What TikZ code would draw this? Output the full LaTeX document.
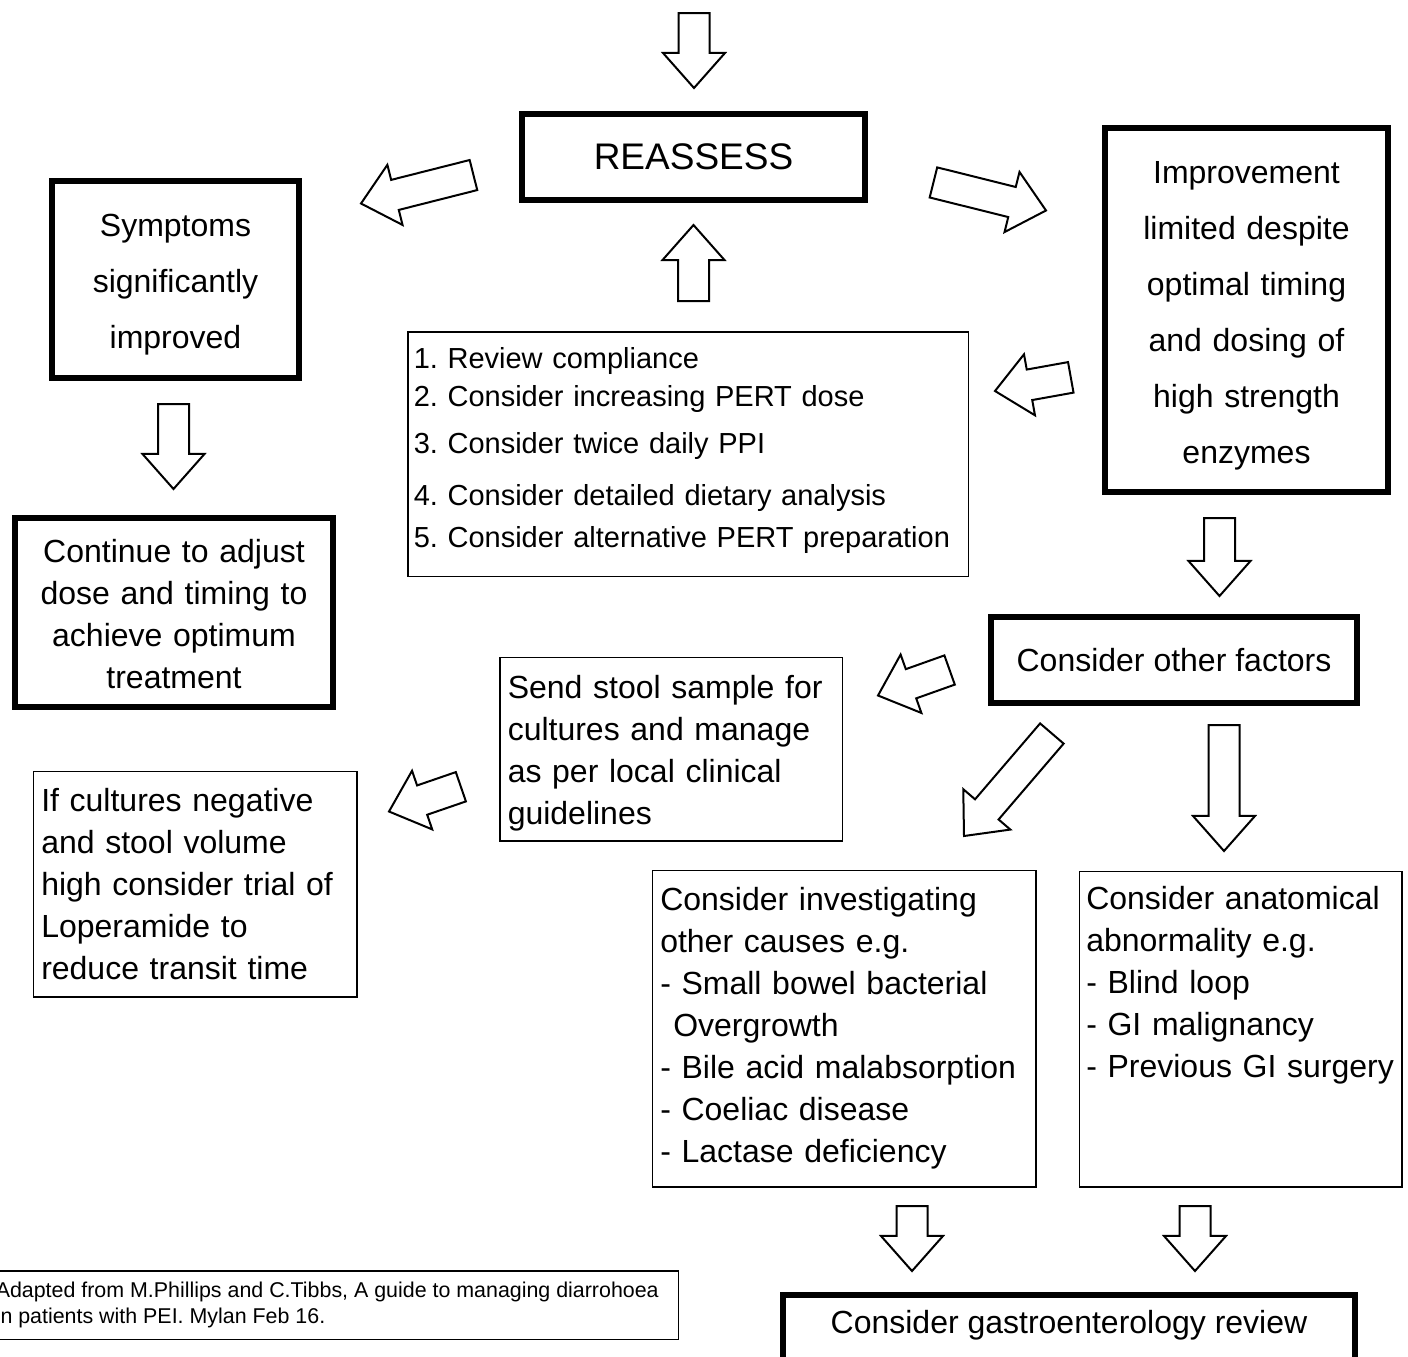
\documentclass[tikz,border=0pt]{standalone}
\usepackage{fontspec}
\setmainfont{Liberation Sans}
\usepackage{tikz}
\usetikzlibrary{
  positioning,
  shapes.arrows
}
\frenchspacing

\begin{document}
\begin{tikzpicture}[
  x=1pt, y=-1pt,
  thickbox/.style={draw, line width=6pt, align=center, inner sep=0pt, font=\fontsize{32}{42}\selectfont},
  thinbox/.style={draw, line width=1.5pt, align=left, inner xsep=8pt, inner ysep=0pt, font=\fontsize{32}{42}\selectfont},
  blk/.style={single arrow, draw, fill=white, line width=2pt, inner xsep=0pt, inner ysep=14.5pt, outer sep=0pt,
    single arrow head extend=15.5pt, single arrow tip angle=83, anchor=tip, minimum height=#1}
]
  \useasboundingbox (0,0) rectangle (1408,1357);

  % Centre
  \node[thickbox, minimum width=343pt, minimum height=86pt, font=\fontsize{37}{44}\selectfont] (reassess) at (693.5,157) {REASSESS};
  \node[thinbox, inner xsep=6pt, text width=548.5pt, minimum height=244.5pt, text depth=192pt, font=\fontsize{29}{38}\selectfont] (review) at (688,454) {1. Review compliance\\2. Consider increasing PERT dose\\[9pt]3. Consider twice daily PPI\\[14pt]4. Consider detailed dietary analysis\\[4pt]5. Consider alternative PERT preparation};

  % Left branch
  \node[thickbox, text width=247pt, minimum height=197pt, text height=32pt, font=\fontsize{32}{56}\selectfont] (improved) at (175.5,279.5) {Symptoms\\significantly\\improved};
  \node[thickbox, text width=318pt, minimum height=189pt, text height=27pt] (adjust) at (174,612.5) {Continue to adjust\\dose and timing to\\achieve optimum\\treatment};

  % Right branch
  \node[thickbox, text width=283pt, minimum height=364pt, text height=33pt, font=\fontsize{32}{56}\selectfont] (limited) at (1246.5,310) {Improvement\\limited despite\\optimal timing\\and dosing of\\high strength\\enzymes};
  \node[thickbox, minimum width=366pt, minimum height=86pt] (other) at (1174,660) {Consider other factors};

  % Other factors
  \node[thinbox, text width=326.5pt, minimum height=183.5pt, text height=31.5pt] (stool) at (671,749) {Send stool sample for\\cultures and manage\\as per local clinical\\guidelines};
  \node[thinbox, text width=307.5pt, minimum height=225.5pt] (loperamide) at (195,884) {If cultures negative\\and stool volume\\high consider trial of\\Loperamide to\\reduce transit time};
  \node[thinbox, text width=367.5pt, minimum height=316.5pt] (causes) at (844,1028.5) {Consider investigating\\other causes e.g.\\- Small bowel bacterial\\\hspace*{13pt}Overgrowth\\- Bile acid malabsorption\\- Coeliac disease\\- Lactase deficiency};
  \node[thinbox, inner xsep=7pt, text width=308.5pt, text height=38.25pt, text depth=277.25pt, anchor=north] (anatomy) at (1240.5,870.75) {Consider anatomical\\abnormality e.g.\\- Blind loop\\- GI malignancy\\- Previous GI surgery};
  \node[thickbox, minimum width=572pt, text height=38pt, text depth=150pt, anchor=north] (gastro) at (1069,1292) {Consider gastroenterology review};

  % Source
  \node[thinbox, inner xsep=20pt, minimum height=68.5pt, anchor=west, font=\fontsize{21.4}{26}\selectfont] (source) at (-25,1305) {Adapted from M.Phillips and C.Tibbs, A guide to managing diarrohoea\\in patients with PEI. Mylan Feb 16.};

  % Block arrows
  \node[blk=75pt, rotate=-90] (inTop) at (694,88) {};
  \node[blk=76pt, rotate=90] (backUp) at (693.5,225) {};
  \node[blk=116pt, rotate=194.2] (toImproved) at (361,203.5) {};
  \node[blk=116pt, rotate=-14] (toLimited) at (1046,210.5) {};
  \node[blk=85pt, rotate=-90] (toAdjust) at (173.5,489) {};
  \node[blk=77pt, rotate=190.2] (toReview) at (995,391) {};
  \node[blk=78pt, rotate=-90] (toOther) at (1219.5,596) {};
  \node[blk=76pt, rotate=199.6] (toStool) at (878,695.5) {};
  \node[blk=135pt, rotate=229.4] (toCauses) at (964,836) {};
  \node[blk=126pt, rotate=-90] (toAnatomy) at (1224,851) {};
  \node[blk=76pt, rotate=199] (toLoperamide) at (389,811.5) {};
  \node[blk=65pt, rotate=-90] (fromCauses) at (912,1271) {};
  \node[blk=65pt, rotate=-90] (fromAnatomy) at (1195,1271) {};
\end{tikzpicture}
\end{document}
